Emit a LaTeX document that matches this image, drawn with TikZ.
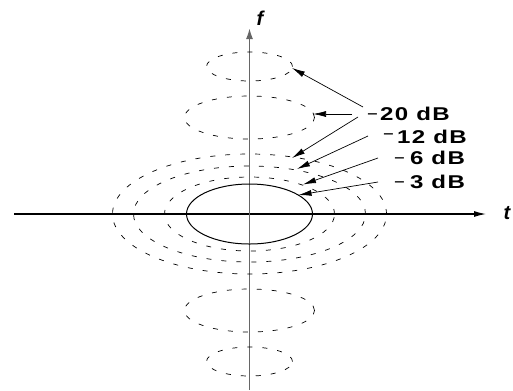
\documentclass[tikz,border=0pt]{standalone}
\usepackage{fontspec}
\setmainfont{Liberation Sans}
\newfontfamily\labfont[LetterSpace=6]{Liberation Sans}
\usetikzlibrary{arrows.meta}
\newcommand{\wide}[1]{\scalebox{1.3}[1]{#1}}
\begin{document}
\begin{tikzpicture}[x=1bp,y=-1bp,
  dashell/.style={draw=black,line width=0.7bp,dash pattern=on 5bp off 10bp},
  solidell/.style={draw=black,line width=1bp},
  leader/.style={draw=black,line width=0.7bp,-{Latex[length=13bp,width=6bp]}},
  dblab/.style={anchor=west,inner sep=0pt,font=\labfont\bfseries\fontsize{18.5bp}{20bp}\selectfont},
  axlab/.style={inner sep=0pt,font=\bfseries\itshape\fontsize{20bp}{22bp}\selectfont}]
\useasboundingbox (0,0) rectangle (513,390);
% axes
\coordinate (tstart) at (14,214);
\coordinate (tend) at (486,214);
\coordinate (fstart) at (249.5,390);
\coordinate (fend) at (249.5,28);
\draw[line width=1.1bp,-{Latex[length=12bp,width=6bp]}] (tstart) -- (tend);
\draw[black!60,line width=1.7bp,-{Latex[length=11bp,width=7bp]}] (fstart) -- (fend);
\node[axlab] (tlab) at (507,213) {t};
\node[axlab] (flab) at (260,18.5) {f};
% contours
\draw[solidell] (249.5,214) ellipse [x radius=63bp, y radius=30bp];
\draw[dashell] (249.5,214) ellipse [x radius=85bp, y radius=37bp];
\draw[dashell] (249.5,214) ellipse [x radius=116bp, y radius=48bp];
\draw[dashell] (249.5,214) ellipse [x radius=137bp, y radius=60bp];
\draw[dashell] (249.5,117.5) ellipse [x radius=65bp, y radius=21.5bp];
\draw[dashell] (249.5,66.5) ellipse [x radius=43bp, y radius=14.5bp];
\draw[dashell] (249.5,310.5) ellipse [x radius=65bp, y radius=21.5bp];
\draw[dashell] (249.5,361.5) ellipse [x radius=43bp, y radius=14.5bp];
% labels
\node[dblab] (l20) at (367,114) {{\mdseries −}\hspace{2bp}\wide{20 dB}};
\node[dblab] (l12) at (383,137) {\raisebox{3bp}{\mdseries −}\hspace{3bp}\wide{12 dB}};
\node[dblab] (l6) at (394,157.5) {{\mdseries −}\hspace{5bp}\wide{6 dB}};
\node[dblab] (l3) at (394,182) {{\mdseries −}\hspace{5bp}\wide{3 dB}};
% leader lines
\coordinate (s1) at (363,107); \coordinate (e1) at (292,68);
\coordinate (s2) at (352,114); \coordinate (e2) at (313,114);
\coordinate (s3) at (358,117); \coordinate (e3) at (292,158);
\coordinate (s4) at (368,136); \coordinate (e4) at (297,169);
\coordinate (s5) at (378,158); \coordinate (e5) at (303,184.5);
\coordinate (s6) at (378,182); \coordinate (e6) at (298.5,195);
\draw[leader] (s1) -- (e1);
\draw[leader] (s2) -- (e2);
\draw[leader] (s3) -- (e3);
\draw[leader] (s4) -- (e4);
\draw[leader] (s5) -- (e5);
\draw[leader] (s6) -- (e6);
\end{tikzpicture}
\end{document}
